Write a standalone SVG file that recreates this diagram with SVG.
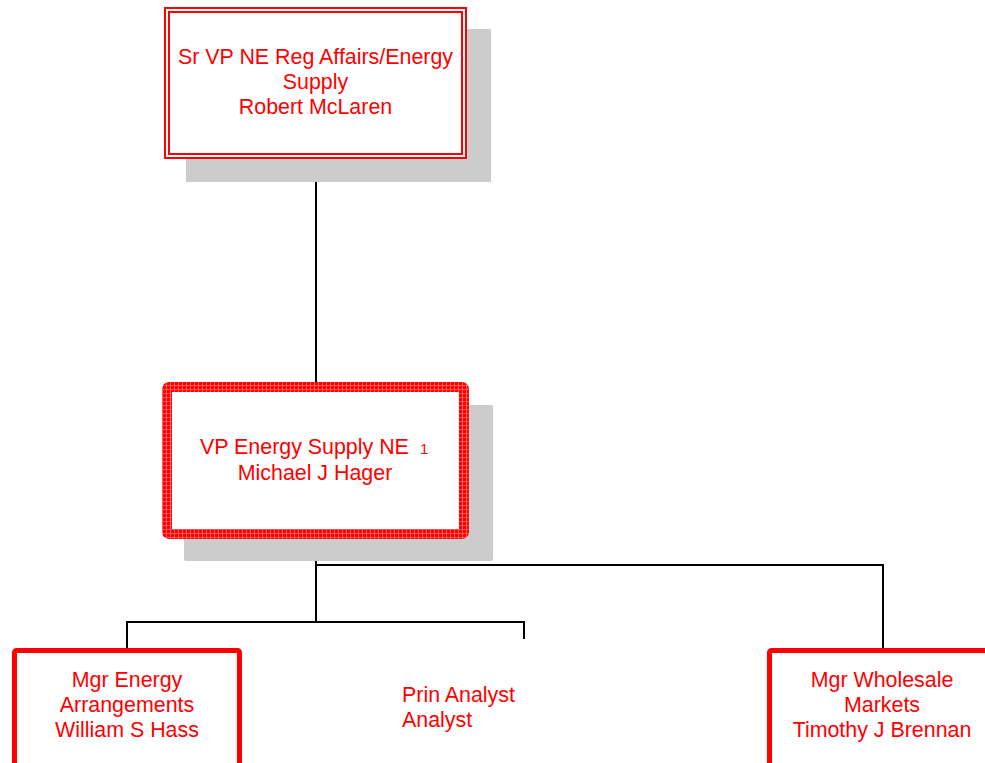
<svg xmlns="http://www.w3.org/2000/svg" width="985" height="763" viewBox="0 0 985 763">
<style>
.t{font-family:"Liberation Sans",Arial,sans-serif;font-size:21.4px;fill:#ff0000}
.c{text-anchor:middle}
.sh{fill:#cccccc}
.ln{stroke:#000;stroke-width:2;fill:none}
</style>
<defs>
<pattern id="hatch" width="4" height="4" patternUnits="userSpaceOnUse">
<rect width="4" height="4" fill="#ff0000"/>
<rect x="0" y="1" width="4" height="1" fill="#ff5050"/>
<rect x="2" y="0" width="1" height="4" fill="#ff6060"/>
</pattern>
</defs>
<rect width="985" height="763" fill="#fff"/>
<g id="connectors">
<path class="ln" d="M316 158V384"/>
<path class="ln" d="M316 539V622"/>
<path class="ln" d="M127 648V622H524V639"/>
<path class="ln" d="M316 565H883V648"/>
</g>
<g id="node-sr-vp">
<rect class="sh" x="186" y="29" width="305" height="153"/>
<rect x="165" y="8" width="301" height="150" fill="#fff" stroke="#ff0000" stroke-width="2"/>
<rect x="169" y="12" width="293" height="142" fill="none" stroke="#ff0000" stroke-width="2"/>
<text class="t c" x="315.5" y="64">Sr VP NE Reg Affairs/Energy</text>
<text class="t c" x="315.5" y="89">Supply</text>
<text class="t c" x="315.5" y="114">Robert McLaren</text>
</g>
<g id="node-vp">
<rect class="sh" x="184" y="405" width="309" height="156" rx="2"/>
<rect x="167" y="387" width="297" height="147" rx="2" fill="#fff" stroke="url(#hatch)" stroke-width="10"/>
<text class="t" x="200" y="454">VP Energy Supply NE<tspan x="420" style="font-size:15px">1</tspan></text>
<text class="t c" x="315" y="480">Michael J Hager</text>
</g>
<g id="node-mgr-energy">
<rect x="14.5" y="650.5" width="225" height="130" rx="2" fill="#fff" stroke="#ff0000" stroke-width="5"/>
<text class="t c" x="127" y="687">Mgr Energy</text>
<text class="t c" x="127" y="712">Arrangements</text>
<text class="t c" x="127" y="737">William S Hass</text>
</g>
<g id="node-prin-analyst">
<text class="t" x="402" y="702">Prin Analyst</text>
<text class="t" x="402" y="727">Analyst</text>
</g>
<g id="node-mgr-wholesale">
<rect x="769.5" y="650.5" width="225" height="130" rx="2" fill="#fff" stroke="#ff0000" stroke-width="5"/>
<text class="t c" x="882" y="687">Mgr Wholesale</text>
<text class="t c" x="882" y="712">Markets</text>
<text class="t c" x="882" y="737">Timothy J Brennan</text>
</g>
</svg>
